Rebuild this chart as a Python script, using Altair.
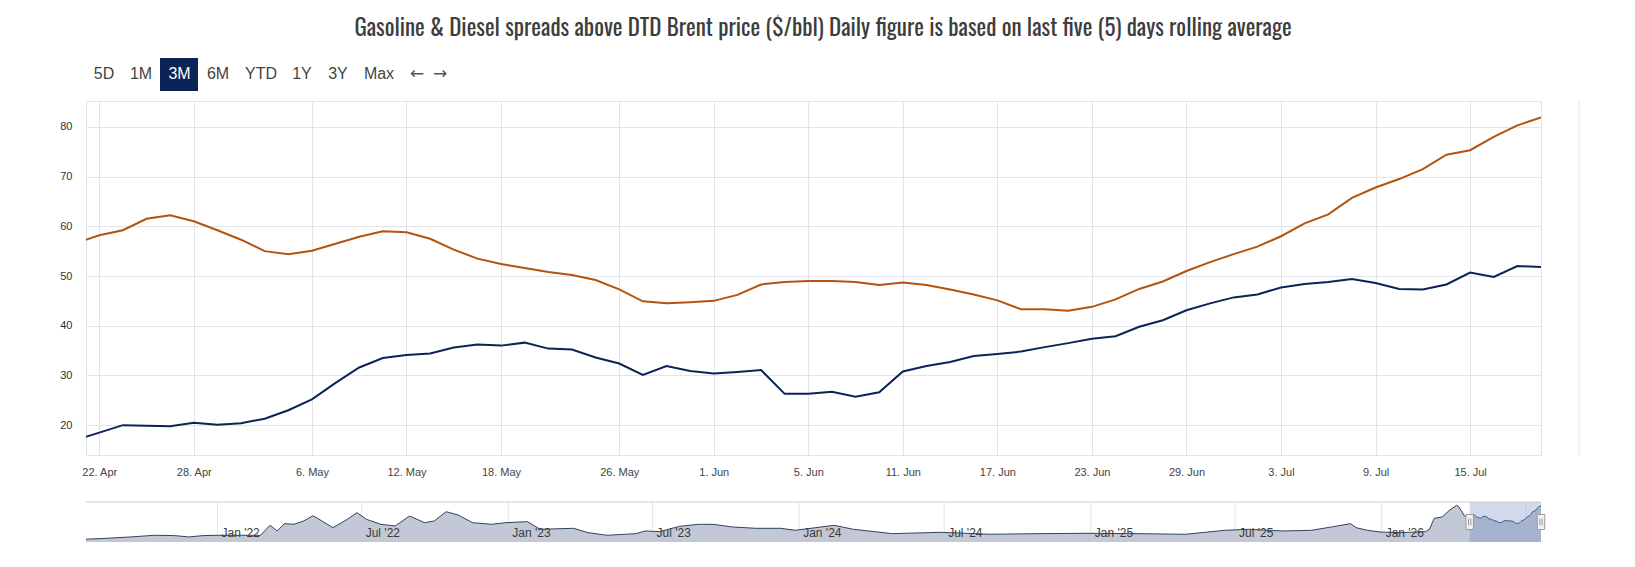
import json
import altair as alt
import pandas as pd

# ---------------- data ----------------
dates = [
    "2026-04-21", "2026-04-22", "2026-04-23", "2026-04-24", "2026-04-27", "2026-04-28",
    "2026-04-29", "2026-04-30", "2026-05-04", "2026-05-05", "2026-05-06", "2026-05-07",
    "2026-05-08", "2026-05-11", "2026-05-12", "2026-05-13", "2026-05-14", "2026-05-15",
    "2026-05-18", "2026-05-19", "2026-05-20", "2026-05-21", "2026-05-22", "2026-05-26",
    "2026-05-27", "2026-05-28", "2026-05-29", "2026-06-01", "2026-06-02", "2026-06-03",
    "2026-06-04", "2026-06-05", "2026-06-08", "2026-06-09", "2026-06-10", "2026-06-11",
    "2026-06-12", "2026-06-15", "2026-06-16", "2026-06-17", "2026-06-18", "2026-06-19",
    "2026-06-22", "2026-06-23", "2026-06-24", "2026-06-25", "2026-06-26", "2026-06-29",
    "2026-06-30", "2026-07-01", "2026-07-02", "2026-07-03", "2026-07-06", "2026-07-07",
    "2026-07-08", "2026-07-09", "2026-07-10", "2026-07-13", "2026-07-14", "2026-07-15",
    "2026-07-16", "2026-07-17", "2026-07-20",
]
diesel = [
    56.6, 58.2, 59.2, 61.5, 62.2, 61.0, 59.2, 57.3, 55.0, 54.4, 55.1, 56.5,
    57.9, 59.0, 58.8, 57.5, 55.3, 53.5, 52.4, 51.6, 50.8, 50.2, 49.2, 47.3,
    44.9, 44.5, 44.7, 45.0, 46.2, 48.3, 48.8, 49.0, 49.0, 48.8, 48.2, 48.7,
    48.2, 47.3, 46.3, 45.1, 43.3, 43.3, 43.0, 43.8, 45.3, 47.4, 48.9, 51.0,
    52.8, 54.4, 55.9, 58.0, 60.6, 62.4, 65.7, 67.8, 69.5, 71.5, 74.4, 75.3,
    78.0, 80.3, 81.9,
]
gasoline = [
    17.0, 18.5, 20.0, 19.9, 19.8, 20.5, 20.1, 20.4, 21.3, 23.0, 25.2, 28.5,
    31.6, 33.5, 34.1, 34.4, 35.6, 36.2, 36.0, 36.6, 35.4, 35.2, 33.6, 32.4,
    30.1, 31.9, 30.9, 30.4, 30.7, 31.1, 26.3, 26.3, 26.7, 25.7, 26.6, 30.8,
    31.9, 32.7, 33.9, 34.3, 34.8, 35.7, 36.5, 37.4, 37.9, 39.8, 41.1, 43.1,
    44.5, 45.7, 46.3, 47.7, 48.4, 48.8, 49.4, 48.6, 47.4, 47.3, 48.3, 50.7,
    49.8, 52.0, 51.8,
]
tick_dates = [
    "2026-04-22", "2026-04-28", "2026-05-06", "2026-05-12", "2026-05-18", "2026-05-26",
    "2026-06-01", "2026-06-05", "2026-06-11", "2026-06-17", "2026-06-23", "2026-06-29",
    "2026-07-03", "2026-07-09", "2026-07-15",
]
y_ticks = [20, 30, 40, 50, 60, 70, 80]

# navigator history (diesel spread, full period)
nav_dates = [
    "2021-07-18", "2021-08-15", "2021-09-14", "2021-10-14", "2021-11-08", "2021-11-26",
    "2021-12-14", "2022-01-01", "2022-01-31", "2022-02-24", "2022-03-08", "2022-03-17",
    "2022-03-26", "2022-04-07", "2022-04-19", "2022-05-01", "2022-05-26", "2022-06-13",
    "2022-06-25", "2022-07-07", "2022-07-25", "2022-08-12", "2022-08-30", "2022-09-18",
    "2022-09-30", "2022-10-15", "2022-10-30", "2022-11-17", "2022-12-11", "2022-12-29",
    "2023-01-25", "2023-02-10", "2023-03-24", "2023-04-11", "2023-05-05", "2023-06-10",
    "2023-06-22", "2023-07-10", "2023-08-04", "2023-08-28", "2023-09-15", "2023-10-09",
    "2023-11-08", "2023-12-09", "2023-12-27", "2024-02-14", "2024-03-09", "2024-04-27",
    "2024-06-27", "2024-08-28", "2024-10-28", "2024-12-28", "2025-02-27", "2025-04-30",
    "2025-06-18", "2025-07-18", "2025-08-30", "2025-10-05", "2025-10-30", "2025-11-23",
    "2025-11-30", "2025-12-14", "2025-12-30", "2026-01-23", "2026-02-25", "2026-03-02",
    "2026-03-08", "2026-03-18", "2026-03-27", "2026-04-05", "2026-04-08", "2026-04-15",
]
nav_values = [
    7.1, 9.4, 12.4, 16.1, 15.4, 12.4,
    15.4, 16.1, 16.1, 16.1, 38.6, 25.8,
    42.3, 40.8, 48.3, 60.2, 33.3, 52.0,
    67.0, 52.0, 40.8, 37.1, 59.5, 44.5,
    48.3, 69.2, 61.8, 44.5, 40.8, 44.5,
    46.8, 29.6, 31.8, 22.1, 16.1, 19.8,
    25.8, 24.3, 36.3, 40.8, 40.8, 34.8,
    31.8, 31.8, 27.3, 38.6, 29.6, 19.8,
    22.8, 18.4, 19.8, 20.6, 19.8, 18.4,
    27.3, 29.6, 25.8, 27.3, 34.8, 42.3,
    33.3, 27.3, 23.5, 22.0, 24.3, 29.6,
    54.3, 57.3, 72.2, 83.4, 80.4, 59.5,
]
nav_ticks = [
    "2022-01-01", "2022-07-01", "2023-01-01", "2023-07-01", "2024-01-01", "2024-07-01",
    "2025-01-01", "2025-07-01", "2026-01-01", "2026-07-01",
]
buttons = ["5D", "1M", "3M", "6M", "YTD", "1Y", "3Y", "Max"]
arrows = ["\u2190", "\u2192"]
title_text = ("Gasoline & Diesel spreads above DTD Brent price ($/bbl) "
              "Daily figure is based on last five (5) days rolling average")

# ---------------- layout / style constants ----------------
W, H = 1455, 354
NAV_H = 40
NAVY = "#0c2356"
ORANGE = "#b4530f"
GRID = "#e3e3ea"
button_x = [18, 55, 93.5, 132, 175, 216, 252, 293]
arrow_x = [331, 354]
TITLE_FONT = "Oswald, 'Liberation Sans Narrow', 'DejaVu Sans Condensed', 'Roboto Condensed', 'Arial Narrow', sans-serif"
UI_FONT = "'Liberation Sans', Arial, 'DejaVu Sans', sans-serif"

# ---------------- frames ----------------
pos = {d: i - 1 for i, d in enumerate(dates)}
labels_all = [f"{pd.Timestamp(d).day}. {pd.Timestamp(d).strftime('%b')}" for d in dates]
label_expr = json.dumps(labels_all) + "[datum.value + 1]"

df = pd.DataFrame({
    "idx": [pos[d] for d in dates] * 2,
    "date": dates * 2,
    "value": gasoline + diesel,
    "series": ["Gasoline"] * len(dates) + ["Diesel"] * len(dates),
})

x_scale = alt.Scale(domain=[-0.56, len(dates) - 2], nice=False, zero=False)
y_scale = alt.Scale(domain=[14, 85.2], nice=False, zero=False)

lines = alt.Chart(df).mark_line(strokeWidth=2, clip=True).encode(
    x=alt.X("idx:Q", scale=x_scale, title=None,
            axis=alt.Axis(values=[pos[d] for d in tick_dates], labelExpr=label_expr,
                          grid=True, gridColor=GRID, domain=False, ticks=False, tickSize=0,
                          labelPadding=11, labelFontSize=11, labelColor="#444",
                          labelFont=UI_FONT, labelAlign="center")),
    y=alt.Y("value:Q", scale=y_scale, title=None,
            axis=alt.Axis(values=y_ticks, grid=True, gridColor=GRID, domain=False,
                          ticks=False, tickSize=0, labelPadding=14, labelFontSize=11,
                          labelColor="#333", labelFont=UI_FONT)),
    color=alt.Color("series:N", scale=alt.Scale(domain=["Gasoline", "Diesel"],
                                                range=[NAVY, ORANGE]), legend=None),
    detail="series:N",
)

# invisible anchor fixing the page origin
anchor = alt.Chart(pd.DataFrame({"a": [0]})).mark_rect(opacity=0).encode(
    x=alt.value(-77), x2=alt.value(0), y=alt.value(-92), y2=alt.value(0))

title = alt.Chart(pd.DataFrame({"t": [title_text]})).mark_text(
    font=TITLE_FONT, fontSize=23, color="#3d3d3d", align="center", baseline="alphabetic"
).encode(text="t:N", x=alt.value(737), y=alt.value(-65))

px_scale = alt.Scale(domain=[0, W], range=[0, W])
btn_df = pd.DataFrame({"label": buttons, "bx": button_x,
                       "sel": [b == "3M" for b in buttons]})
btn_box = alt.Chart(pd.DataFrame({"a": [0]})).mark_rect(color=NAVY).encode(
    x=alt.value(74), x2=alt.value(112), y=alt.value(-43), y2=alt.value(-10))
btn_text = alt.Chart(btn_df).mark_text(
    font=UI_FONT, fontSize=16, align="center", baseline="middle"
).encode(
    text="label:N",
    x=alt.X("bx:Q", scale=px_scale, axis=None),
    y=alt.value(-27),
    color=alt.condition("datum.sel", alt.value("#ffffff"), alt.value("#444444")),
)
arrow_df = pd.DataFrame({"label": arrows, "bx": arrow_x})
arrow_text = alt.Chart(arrow_df).mark_text(
    font="'DejaVu Sans', sans-serif", fontSize=17, align="center", baseline="middle",
    color="#555555"
).encode(text="label:N", x=alt.X("bx:Q", scale=px_scale, axis=None), y=alt.value(-27))

right_rule = alt.Chart(pd.DataFrame({"a": [0]})).mark_rule(color="#e6e6e6").encode(
    x=alt.value(1493), y=alt.value(0), y2=alt.value(H))

main = alt.layer(anchor, lines, title, btn_box, btn_text, arrow_text, right_rule).resolve_scale(
    x="independent").properties(width=W, height=H, view=alt.ViewBackground(stroke=GRID))

# ---------------- navigator ----------------
nav_df = pd.DataFrame({
    "date": nav_dates + dates,
    "value": nav_values + diesel,
})
nx = alt.Scale(domain=["2021-07-20", "2026-07-20"], nice=False)
ny = alt.Scale(domain=[1, 91], nice=False, zero=False)

tick_df = pd.DataFrame({"date": nav_ticks})
tick_df["label"] = [pd.Timestamp(d).strftime("%b '%y") for d in nav_ticks]
tick_df["show"] = [pd.Timestamp(d) < pd.Timestamp("2026-06-01") for d in nav_ticks]

nav_grid = alt.Chart(tick_df).mark_rule(color="#e6e6e6").encode(
    x=alt.X("date:T", scale=nx, axis=None), y=alt.value(0), y2=alt.value(NAV_H))
nav_area = alt.Chart(nav_df).mark_area(
    color="#c2c8d5", line={"color": "#34425f", "strokeWidth": 1}, clip=True, opacity=1
).encode(
    x=alt.X("date:T", scale=nx, axis=None),
    y=alt.Y("value:Q", scale=ny, axis=None),
)
nav_labels = alt.Chart(tick_df).transform_filter("datum.show").mark_text(
    font=UI_FONT, fontSize=12, color="#3a3a3a", align="left", baseline="middle", dx=4
).encode(x=alt.X("date:T", scale=nx, axis=None), y=alt.value(31), text="label:N")

mask_df = pd.DataFrame({"start": ["2026-04-21T12:00:00"], "end": ["2026-07-20"]})
nav_mask = alt.Chart(mask_df).mark_rect(color="rgba(102,133,194,0.3)").encode(
    x=alt.X("start:T", scale=nx, axis=None), x2="end:T", y=alt.value(0), y2=alt.value(NAV_H))

handle_df = pd.DataFrame({"date": ["2026-04-21T12:00:00", "2026-07-20"]})
nav_handles = alt.Chart(handle_df).mark_point(
    shape="M-0.5,-1L0.5,-1L0.5,1L-0.5,1Z", size=225, filled=True, fill="#f2f2f2",
    stroke="#999999", strokeWidth=1, opacity=1
).encode(x=alt.X("date:T", scale=nx, axis=None), y=alt.value(NAV_H / 2))
nav_grips = alt.Chart(handle_df).mark_point(
    shape="M-0.15,-0.45L-0.15,0.45M0.15,-0.45L0.15,0.45", size=225, filled=False,
    stroke="#999999", strokeWidth=1, opacity=1
).encode(x=alt.X("date:T", scale=nx, axis=None), y=alt.value(NAV_H / 2))

nav_top = alt.Chart(pd.DataFrame({"a": [0]})).mark_rule(color="#cccccc").encode(
    x=alt.value(0), x2=alt.value(W), y=alt.value(0))

nav = alt.layer(nav_grid, nav_area, nav_labels, nav_mask, nav_top, nav_handles, nav_grips).properties(
    width=W, height=NAV_H, view=alt.ViewBackground(stroke=None))

chart = alt.VConcatChart(vconcat=[main, nav], spacing=47, bounds="flush").properties(
    padding=0, background="#ffffff"
).configure_view(stroke=None)

chart.save("out.html", embed_options={"renderer": "svg", "actions": False})
